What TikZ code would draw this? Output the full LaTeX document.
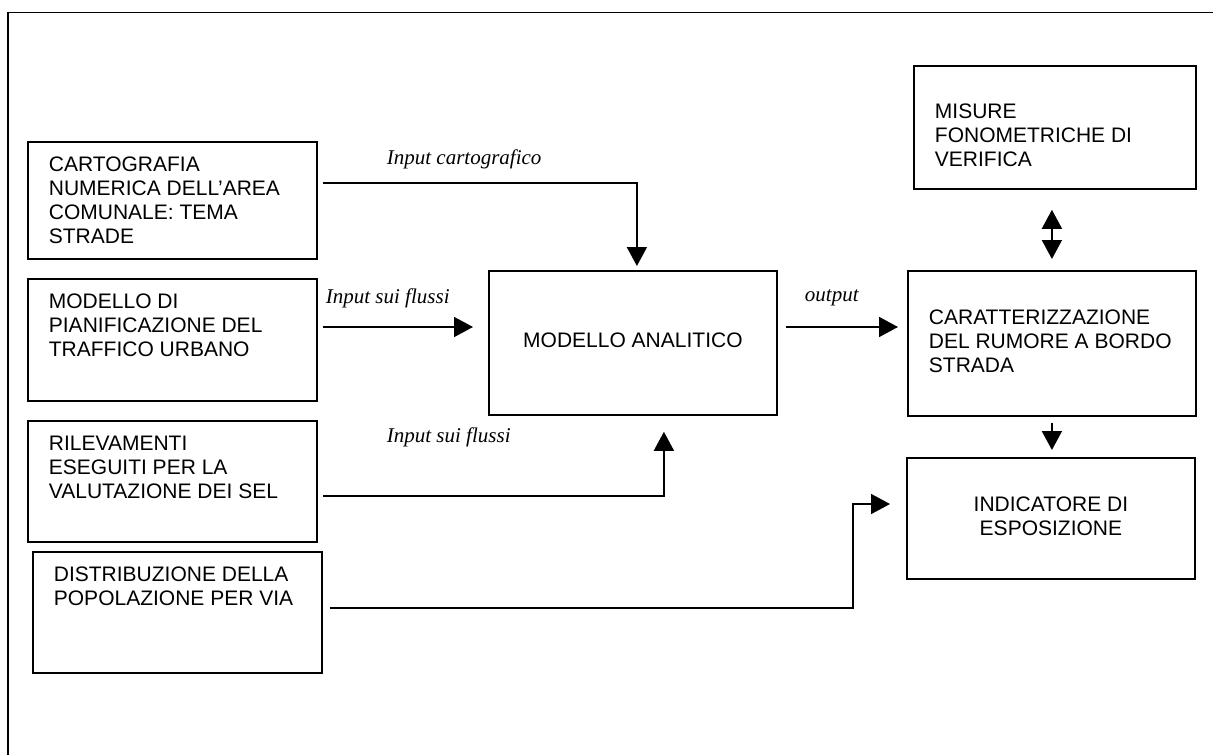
\documentclass[tikz,border=0pt]{standalone}
\usepackage{fontspec}
\setmainfont{Liberation Serif}
\setsansfont{Liberation Sans}
\usetikzlibrary{arrows.meta}

% testo dentro un riquadro: in alto oppure centrato
\newcommand{\sopra}[4][6.2pt]{\parbox[c][#3][t]{#2}{\vspace*{#1}\begin{tabular}[t]{@{}l@{}}#4\end{tabular}}}
\newcommand{\centro}[4]{\parbox[c][#2][c]{#1}{\centering\begin{tabular}{@{}#3@{}}#4\end{tabular}}}

\begin{document}
\begin{tikzpicture}[x=0.5pt, y=-0.5pt, line width=0.9pt, >={Triangle[length=9.5pt,width=10pt]},
	font=\sffamily\fontsize{10.5}{12}\selectfont]
	
	% Stili per riquadri, frecce ed etichette
	\tikzset{
		blocco/.style={
			draw,
			anchor=north west,
			inner xsep=10.5pt,
			inner ysep=0pt
		},
		flusso/.style={->},
		etichetta/.style={
			anchor=base west,
			inner sep=0pt,
			font=\rmfamily\itshape\fontsize{10.5}{12}\selectfont
		}
	}
	
	\useasboundingbox (0,0) rectangle (1213,755);
	
	% Cornice
	\draw (8,755) -- (8,12.5) -- (1213,12.5);
	
	% Riquadri di ingresso a sinistra
	\node[blocco] (carto)    at (27,141) {\sopra{123.5pt}{58.5pt}{CARTOGRAFIA\\NUMERICA DELL’AREA\\COMUNALE: TEMA\\STRADE}};
	\node[blocco] (traffico) at (27,278) {\sopra{123.5pt}{61pt}{MODELLO DI\\PIANIFICAZIONE DEL\\TRAFFICO URBANO}};
	\node[blocco] (rilievi)  at (27,420) {\sopra{123.5pt}{60.5pt}{RILEVAMENTI\\ESEGUITI PER LA\\VALUTAZIONE DEI SEL}};
	\node[blocco] (popol)    at (32,551) {\sopra{123.5pt}{60.5pt}{DISTRIBUZIONE DELLA\\POPOLAZIONE PER VIA}};
	
	% Modello centrale
	\node[blocco] (modello) at (488,270) {\centro{123pt}{72pt}{c}{MODELLO ANALITICO}};
	
	% Riquadri a destra
	\node[blocco] (misure) at (913,65)  {\sopra[18.1pt]{120pt}{61.5pt}{MISURE\\FONOMETRICHE DI\\VERIFICA}};
	\node[blocco] (rumore) at (907,270) {\parbox[c][72.5pt][c]{123pt}{\begin{tabular}{@{}l@{}}CARATTERIZZAZIONE\\DEL RUMORE A BORDO\\STRADA\end{tabular}}};
	\node[blocco] (indic)  at (906,457) {\centro{123pt}{60.5pt}{c}{INDICATORE DI\\ESPOSIZIONE}};
	
	% Frecce di ingresso al modello
	\draw[flusso, shorten <=2.5pt, shorten >=2pt] (carto.east |- 0,183) -| ([xshift=2pt]modello.north);
	\draw[flusso, shorten <=2.5pt, shorten >=7.5pt] (traffico.east |- 0,327) -- (modello.west |- 0,327);
	\draw[flusso, shorten <=2.5pt, shorten >=8pt] (rilievi.east |- 0,496) -| ([xshift=15.5pt]modello.south);
	
	% Uscita e verifica
	\draw[flusso, shorten <=4pt, shorten >=4.5pt] (modello.east |- 0,327) -- (rumore.west |- 0,327);
	\draw[<->, shorten <=10pt, shorten >=5.5pt] (rumore.north |- misure.south) -- (rumore.north);
	\draw[flusso, shorten <=3pt, shorten >=3.5pt] (rumore.south) -- (rumore.south |- indic.north);
	
	% Popolazione verso indicatore
	\coordinate (gomito) at (853,504);
	\draw[flusso, shorten <=3.5pt, shorten >=8pt] (popol.east |- 0,608) -| (gomito) -- (indic.west |- gomito);
	
	% Etichette delle frecce
	\node[etichetta] (lcarto)   at (386,164) {Input cartografico};
	\node[etichetta] (lflussi)  at (325,303) {Input sui flussi};
	\node[etichetta] (lrilievi) at (386,442) {Input sui flussi};
	\node[etichetta] (lout)     at (804,301) {output};
	
\end{tikzpicture}
\end{document}
